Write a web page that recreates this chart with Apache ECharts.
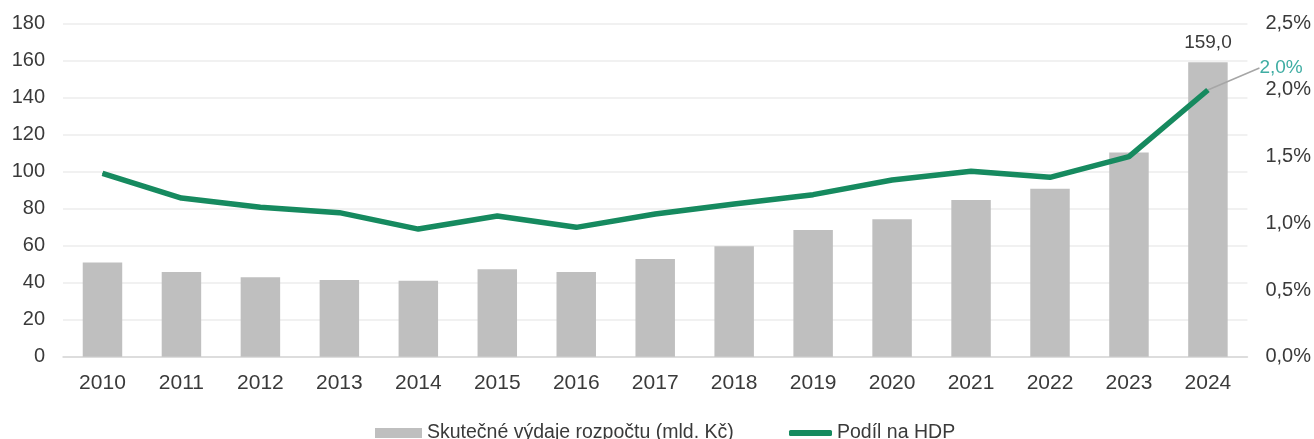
<!DOCTYPE html>
<html>
<head>
<meta charset="utf-8">
<script src="https://cdn.jsdelivr.net/npm/echarts@6/dist/echarts.min.js"></script>
<style>
html,body{margin:0;padding:0;background:#fff;}
#c{width:1314px;height:439px;}
</style>
</head>
<body>
<div id="c"></div>
<script>
const years = ['2010','2011','2012','2013','2014','2015','2016','2017','2018','2019','2020','2021','2022','2023','2024'];
const spending = [50.8, 45.7, 42.9, 41.4, 41.0, 47.2, 45.7, 52.8, 59.6, 68.4, 74.2, 84.6, 90.7, 110.2, 159.0];
const gdpShare = [1.375, 1.19, 1.12, 1.08, 0.957, 1.055, 0.97, 1.07, 1.145, 1.215, 1.325, 1.39, 1.345, 1.50, 2.0];
const barName = 'Skutečné výdaje rozpočtu (mld. Kč)';
const lineName = 'Podíl na HDP';

const FONT = '"Liberation Sans", Arial, sans-serif';
const TXT = '#3a3a3a';
const fmtPct = v => v.toFixed(1).replace('.', ',') + '%';

const chart = echarts.init(document.getElementById('c'));
const last = spending.length - 1;

chart.setOption({
  animation: false,
  textStyle: { fontFamily: FONT },
  grid: { left: 63, right: 64, top: 23.3, bottom: 82.3, containLabel: false },
  legend: [
    {
      data: [{ name: barName, icon: 'rect' }],
      left: 370, top: 418,
      itemWidth: 47, itemHeight: 10, itemGap: 6,
      textStyle: { fontSize: 19.5, color: TXT, fontFamily: FONT }
    },
    {
      data: [{ name: lineName, icon: 'roundRect' }],
      left: 784, top: 418,
      itemWidth: 43, itemHeight: 6, itemGap: 3,
      textStyle: { fontSize: 19.5, color: TXT, fontFamily: FONT }
    }
  ],
  xAxis: {
    type: 'category',
    data: years,
    axisTick: { show: false },
    axisLine: { lineStyle: { color: '#d6d6d6', width: 1.5 } },
    axisLabel: { fontSize: 21, color: TXT, margin: 16, fontFamily: FONT }
  },
  yAxis: [
    {
      type: 'value', min: 0, max: 180, interval: 20,
      axisLine: { show: false }, axisTick: { show: false },
      splitLine: { lineStyle: { color: '#ececec', width: 1.5 } },
      axisLabel: { fontSize: 20, color: TXT, margin: 18, fontFamily: FONT }
    },
    {
      type: 'value', min: 0, max: 2.5, interval: 0.5,
      axisLine: { show: false }, axisTick: { show: false },
      splitLine: { show: false },
      axisLabel: { fontSize: 20, color: TXT, margin: 18, fontFamily: FONT, formatter: fmtPct }
    }
  ],
  series: [
    {
      name: barName,
      type: 'bar',
      barWidth: '50%',
      itemStyle: { color: '#bfbfbf' },
      data: spending.map((v, i) => i === last ? {
        value: v,
        label: { show: true, position: 'top', distance: 10, fontSize: 19, color: TXT,
                 formatter: p => p.value.toFixed(1).replace('.', ',') }
      } : v)
    },
    {
      name: lineName,
      type: 'line',
      yAxisIndex: 1,
      symbol: 'circle',
      symbolSize: 1,
      lineStyle: { color: '#168a5f', width: 5.5 },
      itemStyle: { color: '#168a5f' },
      data: gdpShare.map((v, i) => i === last ? {
        value: v,
        label: { show: true, position: 'right', distance: 5, fontSize: 19, color: '#3fada3',
                 formatter: p => fmtPct(p.value) },
        labelLine: { show: true, lineStyle: { color: '#a6a6a6', width: 1.5 } }
      } : v),
      labelLayout: p => p.dataIndex === last ? { dx: 46, dy: -22 } : {}
    }
  ]
});
</script>
</body>
</html>
